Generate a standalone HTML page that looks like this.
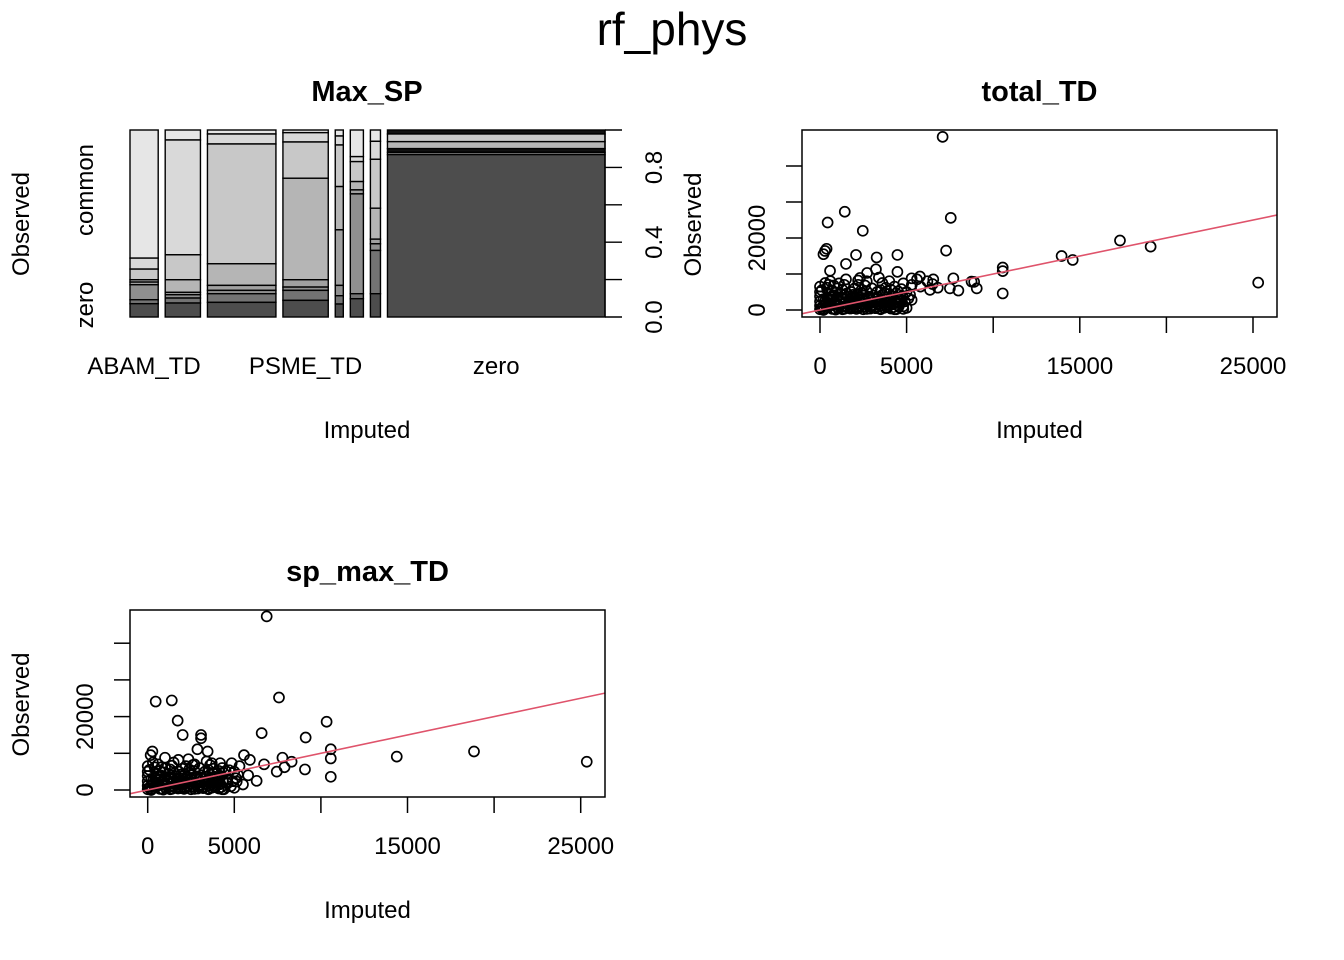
<!DOCTYPE html>
<html><head><meta charset="utf-8"><style>
html,body{margin:0;padding:0;background:#fff;}
svg{display:block;font-family:"Liberation Sans",Arial,sans-serif;}
</style></head><body>
<svg id="fig" width="1344" height="960" viewBox="0 0 1344 960" xmlns="http://www.w3.org/2000/svg">
<text x="672" y="45" font-size="46" text-anchor="middle">rf_phys</text>
<g id="mosaic"></g>
<g id="p2"></g>
<g id="p3"></g>
</svg>
<script>
// ---- Mosaic data ----
const mosaicColWeights = [28, 35, 68, 45, 8, 13, 10, 216];
const mosaicColLabels = ["ABAM_TD", "", "", "PSME_TD", "", "", "", "zero"];
const mosaicSegs = [
  [385,33,32,7,8,45,12,40],
  [30,345,75,38,7,10,15,42],
  [12,30,360,65,15,10,26,44],
  [8,28,109,305,22,10,30,50],
  [18,27,125,130,167,31,25,39],
  [80,15,60,25,12,300,15,55],
  [34,54,147,93,14,20,130,70],
  [12,0,23,21,11,7,0,488]
];
const mosaicShades = ["#e6e6e6","#d9d9d9","#c8c8c8","#b5b5b5","#a0a0a0","#8f8f8f","#737373","#4d4d4d"];
const mosaicShadesLast = ["#111111","#d9d9d9","#c8c8c8","#b5b5b5","#111111","#777777","#737373","#4d4d4d"];
const mosaicTicks = [0,0.2,0.4,0.6,0.8,1.0];
const mosaicTickLabels = ["0.0","0.4","0.8"];
const mosaicTickLabelVals = [0,0.4,0.8];

// ---- total_TD scatter data: [imputed, observed] ----
const totalOutliers = [[7080,48100],[440,24300],[1430,27300],[2470,22000],[7550,25600],[290,16400],[380,17000],[200,15500],[7280,16500],[2080,15300],[3270,14600],[4470,15300],[1500,12800],[580,10900],[3230,11300],[4470,10600],[2720,10300],[2310,8900],[17320,19300],[19090,17600],[13950,15000],[14590,13900],[10550,10800],[10550,11800],[10550,4600],[25300,7600],[5770,9300],[6540,8500],[7700,8800],[8750,7900],[9050,6000],[7500,6000],[7990,5400],[6350,5600],[5290,8800],[4810,7400],[5290,2800],[4810,300],[8900,7800],[6500,7200]];
const totalCluster = [[100,500],[300,1500],[200,3000],[500,4500],[800,2000],[1000,6000],[1200,3500],[1500,1000],[1800,5000],[2000,2500],[2200,7000],[2500,4000],[2800,1500],[3000,6000],[3200,3000],[3500,5500],[3800,2000],[4000,4500],[4300,6500],[4600,3000],[4800,1000],[5000,5000],[5300,7000],[5600,8500],[300,7500],[600,8000],[1500,8500],[2700,8000],[3400,9000],[4000,8000],[100,5500],[700,300],[1300,200],[2100,300],[2900,400],[3700,600],[4400,200],[600,3000],[1600,3800],[2400,5600],[3600,7500],[5800,6500],[6200,8000],[6800,6200],[300,2500],[900,4800],[1900,1800],[4200,1600],[5100,3200],[2600,6800],[150,1000],[400,6200],[1100,1200],[1700,2900],[2300,1200],[3300,1700],[3900,3600],[4500,5200],[0,3800],[0,200],
 [0,1200],[0,2400],[0,5000],[0,6500],[200,0],[400,800],[500,2000],[600,3600],[700,5200],[800,6800],[900,100],[1000,1600],[1100,2600],[1200,4400],[1300,5600],[1400,7000],[1600,600],[1700,2000],[1800,3200],[1900,4200],[2000,6000],[2100,800],[2200,1800],[2300,3400],[2400,4800],[2500,200],[2600,2600],[2700,5200],[2900,1000],[3000,2200],[3100,4000],[3200,500],[3300,5000],[3400,2600],[3500,1200],[3600,4200],[3700,3000],[3800,6200],[3900,800],[4000,2600],[4100,5600],[4200,3800],[4300,200],[4400,4600],[4600,1800],[4700,5800],[4900,2400],[5000,600],[5200,4200],[800,400],[1400,300],[1900,500],[2700,300],[3500,200],[4100,400],[500,7000],[1100,7400],[2200,8200],
 [250,300],[350,1900],[450,3300],[550,1100],[650,2600],[750,4000],[850,1400],[950,3000],[1050,500],[1150,2200],[1250,800],[1350,2900],[1450,1800],[1550,4600],[1650,1300],[1750,400],[1850,2500],[1950,3700],[2050,1500],[2150,4300],[2250,600],[2350,2600],[2450,1800],[2550,3300],[2650,900],[2750,2000],[2850,3700],[2950,2800],[3050,1400],[3150,700],[3250,2200],[3350,3600],[3450,400],[3550,2000],[3650,1600],[3750,4600],[3850,1100],[3950,2200],[4050,1400],[4150,3000],[4250,800],[4350,2300],[4450,3300],[4550,1000],[4650,2400],[4750,3900]];
// ---- sp_max_TD scatter data ----
const spOutliers = [[6870,47300],[460,24100],[1390,24400],[1730,18900],[2020,15000],[3080,15000],[3080,14100],[2870,11100],[3460,10500],[7580,25200],[6580,15500],[9120,14300],[10330,18600],[10570,11100],[10570,8600],[10570,3600],[14380,9100],[18840,10500],[25350,7700],[9080,5600],[7780,8800],[8310,7700],[7450,5000],[6290,2500],[5560,9500],[6720,7000],[270,10500],[170,9500],[1000,8800],[1770,8200],[2350,8400],[3700,7300],[4180,7300],[4850,7300],[5140,2300],[5900,8200],[7900,6200]];
const spCluster = [[100,500],[300,1500],[200,3000],[500,4500],[800,2000],[1000,6000],[1200,3500],[1500,1000],[1800,5000],[2000,2500],[2200,6500],[2500,4000],[2800,1500],[3000,6000],[3200,3000],[3500,5500],[3800,2000],[4000,4500],[4300,6000],[4600,3000],[4800,1000],[5000,5000],[5300,6500],[300,7500],[600,7000],[1500,7500],[2700,7000],[3400,7800],[100,5500],[700,300],[1300,200],[2100,300],[2900,400],[3700,600],[4400,200],[600,3000],[1600,3800],[2400,5600],[3600,6800],[5800,4000],[300,2500],[900,4800],[1900,1800],[4200,1600],[5100,3200],[2600,6800],[150,1000],[400,6200],[1100,1200],[1700,2900],[2300,1200],[3300,1700],[3900,3600],[4500,5200],[0,3800],[0,200],[5500,1500],
 [0,1200],[0,2400],[0,5000],[0,6500],[200,0],[400,800],[500,2000],[600,3600],[700,5200],[800,6200],[900,100],[1000,1600],[1100,2600],[1200,4400],[1300,5600],[1400,6600],[1600,600],[1700,2000],[1800,3200],[1900,4200],[2000,5800],[2100,800],[2200,1800],[2300,3400],[2400,4800],[2500,200],[2600,2600],[2700,5200],[2900,1000],[3000,2200],[3100,4000],[3200,500],[3300,5000],[3400,2600],[3500,1200],[3600,4200],[3700,3000],[3800,5800],[3900,800],[4000,2600],[4100,5200],[4200,3800],[4300,200],[4400,4600],[4600,1800],[4700,5400],[4900,2400],[5000,600],[5200,4200],[800,400],[1400,300],[1900,500],[2700,300],[3500,200],[4100,400],
 [250,300],[350,1900],[450,3300],[550,1100],[650,2600],[750,4000],[850,1400],[950,3000],[1050,500],[1150,2200],[1250,800],[1350,2900],[1450,1800],[1550,4600],[1650,1300],[1750,400],[1850,2500],[1950,3700],[2050,1500],[2150,4300],[2250,600],[2350,2600],[2450,1800],[2550,3300],[2650,900],[2750,2000],[2850,3700],[2950,2800],[3050,1400],[3150,700],[3250,2200],[3350,3600],[3450,400],[3550,2000],[3650,1600],[3750,4600],[3850,1100],[3950,2200],[4050,1400],[4150,3000],[4250,800],[4350,2300]];
const xTickVals = [0,5000,10000,15000,20000,25000];
const xTickLabels = ["0","5000","","15000","","25000"];
const yTickVals = [0,10000,20000,30000,40000];
const yTickLabels = ["0","","20000","",""];

const NS = "http://www.w3.org/2000/svg";
function mk(parent, tag, attrs, text){
  const e = document.createElementNS(NS, tag);
  for (const k in attrs) e.setAttribute(k, attrs[k]);
  if (text !== undefined) e.textContent = text;
  parent.appendChild(e);
  return e;
}

// ---- Mosaic ----
(function(){
  const g = document.getElementById('mosaic');
  const L = 130, R = 605, T = 130, B = 317, gap = 7;
  const totalW = (R - L) - gap * (mosaicColWeights.length - 1);
  const wsum = mosaicColWeights.reduce((a,b)=>a+b,0);
  let x = L;
  mosaicColWeights.forEach((w, ci) => {
    const cw = totalW * w / wsum;
    const segs = mosaicSegs[ci];
    const ssum = segs.reduce((a,b)=>a+b,0);
    let y = T;
    segs.forEach((s, si) => {
      if (s <= 0) return;
      const h = (B - T) * s / ssum;
      const r = mk(g, 'rect', {x: x, y: y, width: cw, height: h, fill: (ci === mosaicSegs.length-1 ? mosaicShadesLast : mosaicShades)[si], stroke: '#000', 'stroke-width': 1.4});
      
      
      y += h;
    });
    if (mosaicColLabels[ci]) {
      const t = mk(g, 'text', {x: x + cw/2, y: 374, 'font-size': 24, 'text-anchor': 'middle'}, mosaicColLabels[ci]);
      
      
    }
    x += cw + gap;
  });
  const sy = v => B - v * (B - T);
  const ax = mk(g, 'line', {x1: 605, y1: sy(0), x2: 605, y2: sy(1), stroke: '#000', 'stroke-width': 1.4});
  
  
  mosaicTicks.forEach(v => {
    const l = mk(g, 'line', {x1: 605, y1: sy(v), x2: 622, y2: sy(v), stroke: '#000', 'stroke-width': 1.4});
    
    
  });
  mosaicTickLabelVals.forEach((v, i) => {
    const t = mk(g, 'text', {x: 0, y: 0, 'font-size': 24, 'text-anchor': 'middle', transform: `translate(662,${sy(v)}) rotate(-90)`}, mosaicTickLabels[i]);
    
    
  });
  const lbls = [["zero", 305], ["common", 190]];
  lbls.forEach(([s, yy]) => {
    const t = mk(g, 'text', {x: 0, y: 0, 'font-size': 24, 'text-anchor': 'middle', transform: `translate(93,${yy}) rotate(-90)`}, s);
    
    
  });
  const yt = mk(g, 'text', {x: 0, y: 0, 'font-size': 24, 'text-anchor': 'middle', transform: 'translate(29,224) rotate(-90)'}, 'Observed');
  
  
  const xt = mk(g, 'text', {x: 367, y: 438, 'font-size': 24, 'text-anchor': 'middle'}, 'Imputed');
  
  
  const tt = mk(g, 'text', {x: 367, y: 101, 'font-size': 29, 'font-weight': 'bold', 'text-anchor': 'middle'}, 'Max_SP');
  
  
})();

// ---- Scatter panels ----
function scatter(gid, box, x0px, y0px, ky, title, outl, clus){
  const g = document.getElementById(gid);
  const kx = 0.01732;
  const sx = v => x0px + v * kx;
  const sy = v => y0px - v * ky;
  const [L, T, R, B] = box;
  const clipId = gid + '-clip';
  const cp = mk(mk(g, 'defs', {}), 'clipPath', {id: clipId});
  mk(cp, 'rect', {x: L, y: T, width: R - L, height: B - T});
  const pts = mk(g, 'g', {});
  
  
  clus.concat(outl).forEach(p => {
    const c = mk(pts, 'circle', {cx: sx(p[0]), cy: sy(p[1]), r: 5, fill: 'none', stroke: '#000', 'stroke-width': 1.7});
    
    
  });
  const vx0 = (L - x0px) / kx, vx1 = (R - x0px) / kx;
  const ln = mk(g, 'line', {x1: sx(vx0), y1: sy(vx0), x2: sx(vx1), y2: sy(vx1), stroke: '#DF536B', 'stroke-width': 1.6, 'clip-path': `url(#${clipId})`});
  
  
  const bx = mk(g, 'rect', {x: L, y: T, width: R - L, height: B - T, fill: 'none', stroke: '#000', 'stroke-width': 1.5});
  
  
  xTickVals.forEach((v, i) => {
    const l = mk(g, 'line', {x1: sx(v), y1: B, x2: sx(v), y2: B + 16, stroke: '#000', 'stroke-width': 1.5});
    
    
    if (xTickLabels[i]) {
      const t = mk(g, 'text', {x: sx(v), y: B + 57, 'font-size': 24, 'text-anchor': 'middle'}, xTickLabels[i]);
      
      
    }
  });
  yTickVals.forEach((v, i) => {
    const l = mk(g, 'line', {x1: L - 16, y1: sy(v), x2: L, y2: sy(v), stroke: '#000', 'stroke-width': 1.5});
    
    
    if (yTickLabels[i]) {
      const t = mk(g, 'text', {x: 0, y: 0, 'font-size': 24, 'text-anchor': 'middle', transform: `translate(${L - 37},${sy(v)}) rotate(-90)`}, yTickLabels[i]);
      
      
    }
  });
  const yt = mk(g, 'text', {x: 0, y: 0, 'font-size': 24, 'text-anchor': 'middle', transform: `translate(${L - 101},${(T + B) / 2 + 1}) rotate(-90)`}, 'Observed');
  
  
  const xt = mk(g, 'text', {x: (L + R) / 2, y: B + 121, 'font-size': 24, 'text-anchor': 'middle'}, 'Imputed');
  
  
  const tt = mk(g, 'text', {x: (L + R) / 2, y: T - 29, 'font-size': 29, 'font-weight': 'bold', 'text-anchor': 'middle'}, title);
  
  
}
scatter('p2', [802, 130, 1277, 317], 820, 310, 0.0036, 'total_TD', totalOutliers, totalCluster);
scatter('p3', [130, 610, 605, 797], 147.7, 790, 0.00367, 'sp_max_TD', spOutliers, spCluster);
</script>
</body></html>
